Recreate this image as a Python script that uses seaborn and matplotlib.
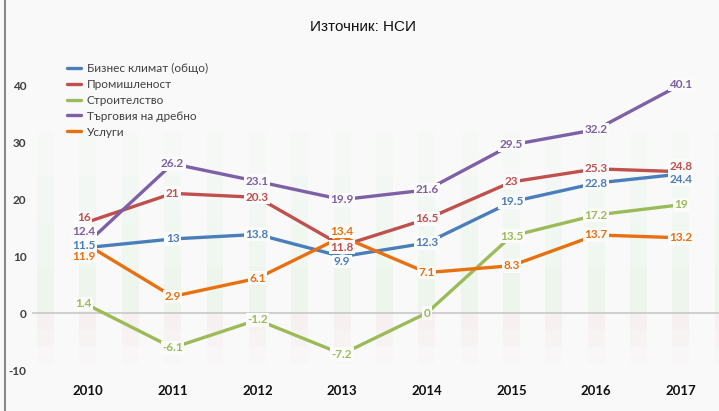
import matplotlib
matplotlib.use("Agg")
import matplotlib.pyplot as plt
from matplotlib.lines import Line2D
import seaborn as sns
import pandas as pd

years = [2010, 2011, 2012, 2013, 2014, 2015, 2016, 2017]
series_names = ["Бизнес климат (общо)", "Промишленост", "Строителство",
                "Търговия на дребно", "Услуги"]
business = [11.5, 13, 13.8, 9.9, 12.3, 19.5, 22.8, 24.4]
industry = [16, 21, 20.3, 11.8, 16.5, 23, 25.3, 24.8]
construction = [1.4, -6.1, -1.2, -7.2, 0, 13.5, 17.2, 19]
retail = [12.4, 26.2, 23.1, 19.9, 21.6, 29.5, 32.2, 40.1]
services = [11.9, 2.9, 6.1, 13.4, 7.1, 8.3, 13.7, 13.2]
colors = ["#4a7ebb", "#c0504d", "#9bbb59", "#7f5fa5", "#e8700e"]

# label nudges (points) where the labels were moved to avoid overlap
nudges = {
    ("Търговия на дребно", 0): (-3, 7.5),
    ("Бизнес климат (общо)", 0): (-3, 1.5),
    ("Промишленост", 0): (-3, 3),
    ("Услуги", 0): (-3, -8),
    ("Строителство", 0): (-3, 1),
    ("Услуги", 3): (0, 4),
    ("Бизнес климат (общо)", 3): (0, -3.5),
    ("Промишленост", 3): (0, -1),
    ("Промишленост", 7): (0, 4),
    ("Бизнес климат (общо)", 7): (0, -4),
}

values = [business, industry, construction, retail, services]
rows = []
for name, vals in zip(series_names, values):
    for i, (yr, v) in enumerate(zip(years, vals)):
        rows.append({"idx": i, "year": yr, "value": v, "series": name})
df = pd.DataFrame(rows)

sns.set_style("white")
plt.rcParams["font.family"] = ["Lato", "DejaVu Sans"]

fig = plt.figure(figsize=(7.19, 4.11), dpi=100, facecolor="#f9f9f9")
ax = fig.add_axes([32 / 719, (411 - 378) / 411, 1 - 32 / 719, (378 - 60) / 411])
ax.set_facecolor("none")

# faint soft background stripes, fading away from zero
for k in range(-1, 8):
    for off in (0.0, 0.5):
        for h in (8, 16, 24, 32):
            ax.fill_between([k + off - 0.1, k + off + 0.1], 0, h,
                            color="#8fdc98", alpha=0.025, lw=0, zorder=0)
        for h in (3, 6, 9):
            ax.fill_between([k + off - 0.1, k + off + 0.1], -h, 0,
                            color="#f09090", alpha=0.025, lw=0, zorder=0)

ax.axhline(0, color="#c8c8c8", lw=1.2, zorder=1)

sns.lineplot(data=df, x="idx", y="value", hue="series", hue_order=series_names,
             palette=colors, lw=2.4, ax=ax, legend=False, zorder=2)

for name, color in zip(series_names, colors):
    sub = df[df["series"] == name]
    for _, r in sub.iterrows():
        dx, dy = nudges.get((name, int(r["idx"])), (0, 0))
        ax.annotate(f"{r['value']:g}", (r["idx"], r["value"]),
                    xytext=(dx, dy), textcoords="offset points",
                    ha="center", va="center", fontsize=8.5, fontweight="bold",
                    color=color, zorder=4,
                    bbox=dict(boxstyle="square,pad=0.12", fc="#fbfbfb", ec="none"))

ax.set_xlim(-0.66, 7.45)
ax.set_ylim(-11.4, 44.4)
ax.set_xticks(range(len(years)))
ax.set_xticklabels([str(y) for y in years], fontsize=9.5, fontweight="bold",
                   color="#111111")
ax.set_yticks([-10, 0, 10, 20, 30, 40])
ax.set_yticklabels(["-10", "0", "10", "20", "30", "40"], fontsize=8.5,
                   fontweight="bold", color="#404040")
ax.tick_params(axis="x", length=0, pad=5)
ax.tick_params(axis="y", length=0, pad=4)
for s in ax.spines.values():
    s.set_visible(False)
ax.set_xlabel("")
ax.set_ylabel("")

handles = [Line2D([0], [0], color=c, lw=2.4) for c in colors]
ax.legend(handles, series_names, loc="upper left", bbox_to_anchor=(0.035, 1.025),
          frameon=False, fontsize=8.5, handlelength=1.2, handletextpad=0.5,
          labelspacing=0.42, labelcolor="#404040")

fig.text(0.505, 1 - 27 / 411, "Източник: НСИ", ha="center", va="center",
         fontsize=11, family=["Liberation Sans", "DejaVu Sans"], color="#111111")

fig.add_artist(Line2D([5 / 719, 5 / 719], [0, 1], color="#8a8a8a", lw=1.5,
                      transform=fig.transFigure))

fig.savefig("out.png", dpi=100, facecolor=fig.get_facecolor())
